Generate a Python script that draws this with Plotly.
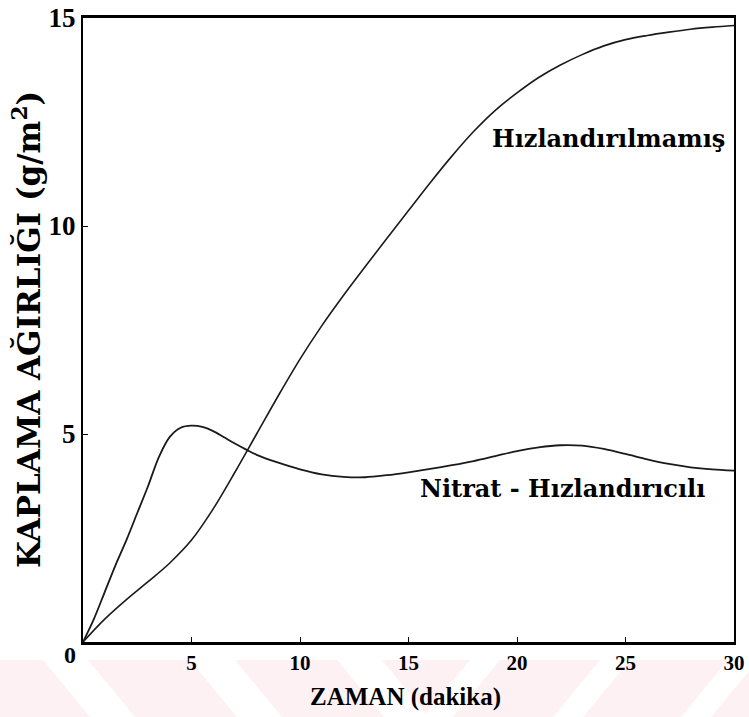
import plotly.graph_objects as go

# ---- data ----
time_unacc = [0, 1, 2, 3, 4, 5, 6, 7, 8, 9, 10, 11, 12, 13, 14, 15, 16, 17, 18, 19, 20,
              21, 22, 23, 24, 25, 26, 27, 28, 29, 30]
weight_unacc = [0, 0.55, 1.02, 1.45, 1.9, 2.45, 3.2, 4.08, 5.0, 5.92, 6.8, 7.6, 8.33, 9.02,
                9.7, 10.37, 11.04, 11.68, 12.27, 12.78, 13.2, 13.57, 13.87, 14.12, 14.33,
                14.48, 14.58, 14.66, 14.73, 14.78, 14.82]

time_nitrate = [0, 0.5, 1, 1.5, 2, 2.5, 3, 3.5, 4, 4.5, 5, 5.5, 6, 6.5, 7, 7.5, 8, 9, 10, 11,
                12, 13, 14, 15, 16, 17, 18, 19, 20, 21, 22, 23, 24, 25, 26, 27, 28, 29, 30]
weight_nitrate = [0, 0.55, 1.2, 1.85, 2.45, 3.1, 3.75, 4.45, 4.93, 5.15, 5.2, 5.17, 5.07, 4.92,
                  4.77, 4.63, 4.5, 4.31, 4.15, 4.03, 3.97, 3.96, 4.01, 4.08, 4.16, 4.25, 4.35,
                  4.47, 4.59, 4.68, 4.73, 4.72, 4.64, 4.52, 4.39, 4.28, 4.2, 4.15, 4.12]

x_ticks = [5, 10, 15, 20, 25, 30]
x_tick_labels = ["5", "10", "15", "20", "25", "30"]
y_ticks = [5, 10, 15]
y_tick_labels = ["5", "10", "15"]
origin_label = "0"

label_unacc = "Hızlandırılmamış"
label_nitrate = "Nitrat - Hızlandırıcılı"
x_title = "ZAMAN (dakika)"
y_title = "KAPLAMA AĞIRLIĞI (g/m<sup>2</sup>)"

W, H = 749, 717
L, R, T, B = 83, 15, 18, 75
PW, PH = W - L - R, H - T - B


def P(px, py):
    return (px - L) / PW, (H - B - py) / PH


FONT = "Liberation Serif"
WIDE = "DejaVu Serif"

fig = go.Figure()
fig.add_trace(go.Scatter(x=time_unacc, y=weight_unacc, mode="lines",
                         line=dict(color="#1a1a1a", width=1.6, shape="spline", smoothing=1.0),
                         showlegend=False, hoverinfo="skip"))
fig.add_trace(go.Scatter(x=time_nitrate, y=weight_nitrate, mode="lines",
                         line=dict(color="#1a1a1a", width=1.8, shape="spline", smoothing=0.9),
                         showlegend=False, hoverinfo="skip"))

# ---- background watermark (light pink band with white diagonal stripes) ----
shapes = []
x0, y0 = P(0, 660)
x1, y1 = P(W, H)
shapes.append(dict(type="rect", xref="paper", yref="paper", x0=x0, y0=y0, x1=x1, y1=y1,
                   fillcolor="#fef1f3", line=dict(width=0), layer="below"))
for sx in [43, 190, 337]:
    a = P(sx, 660); b = P(sx + 45, 660); c = P(sx + 45 + 47, H); d = P(sx + 47, H)
    shapes.append(dict(type="path", xref="paper", yref="paper", layer="below",
                       path=f"M{a[0]},{a[1]} L{b[0]},{b[1]} L{c[0]},{c[1]} L{d[0]},{d[1]} Z",
                       fillcolor="white", line=dict(width=0)))
for sx in [470, 600, 728]:
    a = P(sx, 660); b = P(sx + 30, 660); c = P(sx + 30 - 47, H); d = P(sx - 47, H)
    shapes.append(dict(type="path", xref="paper", yref="paper", layer="below",
                       path=f"M{a[0]},{a[1]} L{b[0]},{b[1]} L{c[0]},{c[1]} L{d[0]},{d[1]} Z",
                       fillcolor="white", line=dict(width=0)))

annotations = [
    dict(x=24.2, y=12.1, xref="x", yref="y", text=label_unacc, showarrow=False,
         xanchor="center", yanchor="middle",
         font=dict(family=WIDE, size=24, color="black", weight="bold")),
    dict(x=22.1, y=3.7, xref="x", yref="y", text=label_nitrate, showarrow=False,
         xanchor="center", yanchor="middle",
         font=dict(family=WIDE, size=24, color="black", weight="bold")),
    dict(x=P(405, 0)[0], y=P(0, 697)[1], xref="paper", yref="paper", text=x_title,
         showarrow=False, xanchor="center", yanchor="middle",
         font=dict(family=FONT, size=25, color="black", weight="bold")),
    dict(x=P(27, 0)[0], y=P(0, 330)[1], xref="paper", yref="paper", text=y_title,
         showarrow=False, textangle=-90, xanchor="center", yanchor="middle",
         font=dict(family=WIDE, size=31, color="black", weight="bold")),
    dict(x=P(70, 0)[0], y=P(0, 655)[1], xref="paper", yref="paper", text=origin_label,
         showarrow=False, xanchor="center", yanchor="middle",
         font=dict(family=FONT, size=24, color="black", weight="bold")),
]

fig.update_layout(
    width=W, height=H,
    margin=dict(l=L, r=R, t=T, b=B, autoexpand=False),
    paper_bgcolor="white", plot_bgcolor="white",
    shapes=shapes, annotations=annotations,
    xaxis=dict(range=[0, 30], tickvals=x_ticks, ticktext=x_tick_labels, automargin=False,
               showgrid=False, zeroline=False, showline=True, mirror=True,
               linecolor="black", linewidth=2.5, ticks="inside", ticklen=5,
               tickcolor="black", tickwidth=1,
               tickfont=dict(family=FONT, size=21, color="black", weight="bold")),
    yaxis=dict(range=[0, 15], tickvals=y_ticks, ticktext=y_tick_labels, automargin=False,
               showgrid=False, zeroline=False, showline=True, mirror=True,
               linecolor="black", linewidth=2, ticks="inside", ticklen=5,
               tickcolor="black", tickwidth=1,
               tickfont=dict(family=FONT, size=27, color="black", weight="bold")),
)

fig.write_html("out.html")
